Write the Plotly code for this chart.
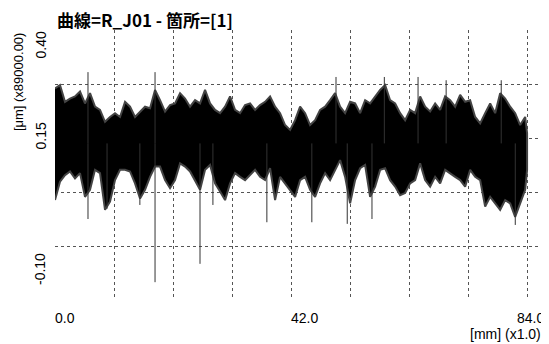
import plotly.graph_objects as go

# ---- data (mm along the trace, μm x89000 values) ----
x_mm = [0.0, 0.89, 1.78, 2.67, 3.56, 4.45, 5.34, 6.23, 7.12, 8.01, 8.9, 9.79, 10.68, 11.57, 12.46,
        13.35, 14.24, 15.13, 16.02, 16.91, 17.8, 18.69, 19.58, 20.47, 21.36,
        22.25, 23.14, 24.03, 24.92, 25.81, 26.70, 27.59, 28.48, 29.37, 30.26, 31.15, 32.04,
        32.93, 33.82, 34.71, 35.60, 36.49, 37.38, 38.27, 39.16, 40.05, 40.94, 41.83, 42.72,
        43.61, 44.50, 45.39, 46.28, 47.17, 48.06, 48.95, 49.84, 50.73, 51.62, 52.51, 53.40,
        54.29, 55.18, 56.07, 56.96, 57.85, 58.74, 59.63, 60.52, 61.41, 62.30, 63.19, 64.08,
        64.97, 65.86, 66.75, 67.64, 68.53, 69.42, 70.31, 71.20, 72.09, 72.98, 73.87, 74.76,
        75.65, 76.54, 77.43, 78.32, 79.21, 80.10, 80.99, 81.88, 82.77, 83.66, 84.0]

upper = [0.292, 0.298, 0.267, 0.273, 0.277, 0.286, 0.264, 0.283, 0.258, 0.252, 0.230, 0.239, 0.246,
         0.239, 0.267, 0.258, 0.239, 0.249, 0.258, 0.255, 0.289, 0.270, 0.249, 0.261, 0.264,
         0.283, 0.273, 0.258, 0.270, 0.264, 0.289, 0.264, 0.252, 0.246, 0.258, 0.277, 0.252,
         0.246, 0.261, 0.264, 0.252, 0.261, 0.267, 0.277, 0.258, 0.246, 0.224, 0.215, 0.233,
         0.258, 0.246, 0.224, 0.233, 0.252, 0.258, 0.270, 0.283, 0.258, 0.246, 0.267, 0.264,
         0.246, 0.270, 0.264, 0.277, 0.289, 0.298, 0.270, 0.264, 0.246, 0.233, 0.252, 0.246,
         0.277, 0.258, 0.249, 0.264, 0.252, 0.277, 0.270, 0.258, 0.280, 0.267, 0.270, 0.239,
         0.227, 0.246, 0.264, 0.246, 0.283, 0.273, 0.258, 0.246, 0.224, 0.239, 0.209]

lower = [0.085, 0.119, 0.131, 0.138, 0.125, 0.135, 0.091, 0.104, 0.141, 0.135, 0.067, 0.082, 0.122,
         0.141, 0.141, 0.138, 0.116, 0.088, 0.104, 0.128, 0.147, 0.147, 0.122, 0.107, 0.122,
         0.153, 0.147, 0.138, 0.122, 0.104, 0.141, 0.150, 0.116, 0.101, 0.085, 0.116, 0.135,
         0.128, 0.122, 0.131, 0.141, 0.128, 0.122, 0.144, 0.085, 0.128, 0.116, 0.104, 0.091,
         0.122, 0.128, 0.104, 0.091, 0.116, 0.135, 0.122, 0.141, 0.159, 0.128, 0.079, 0.122,
         0.144, 0.150, 0.091, 0.110, 0.141, 0.144, 0.122, 0.110, 0.094, 0.098, 0.116, 0.122,
         0.153, 0.122, 0.110, 0.128, 0.116, 0.141, 0.135, 0.128, 0.122, 0.110, 0.141, 0.128,
         0.122, 0.073, 0.091, 0.079, 0.067, 0.085, 0.079, 0.054, 0.079, 0.104, 0.141]

signal_mean = 0.19
up_spike_x = [5.87, 17.8, 50.0, 58.6, 64.6, 69.6, 79.4]
up_spike_val = [0.322, 0.322, 0.313, 0.313, 0.313, 0.307, 0.307]
down_spike_x = [5.87, 9.26, 15.1, 17.8, 25.8, 28.1, 37.7, 45.7, 52.0, 56.4, 81.9]
down_spike_val = [0.050, 0.069, 0.076, -0.067, -0.033, 0.076, 0.044, 0.044, 0.041, 0.050, 0.039]

x_grid = [0, 10.5, 21, 31.5, 42, 52.5, 63, 73.5, 84, 94.5]
y_grid = [-0.10, 0.0, 0.10, 0.20, 0.30, 0.40]
x_labels = [(0, "0.0"), (42, "42.0"), (84, "84.0")]
y_labels = [(0.40, "0.40", "top"), (0.15, "0.15", "bottom"), (-0.10, "-0.10", "bottom")]

title_text = "曲線=R_J01 - 箇所=[1]"
y_title = "[μm] (x89000.00)"
x_title = "[mm] (x1.0)"

fig = go.Figure()

# dense signal band
fig.add_trace(go.Scatter(
    x=x_mm + x_mm[::-1], y=upper + lower[::-1],
    fill="toself", fillcolor="black", mode="lines",
    line=dict(color="#444", width=2), hoverinfo="skip", showlegend=False))

# isolated spikes
sx, sy = [], []
for xv, v in zip(up_spike_x, up_spike_val):
    sx += [xv, xv, None]
    sy += [signal_mean, v, None]
for xv, v in zip(down_spike_x, down_spike_val):
    sx += [xv, xv, None]
    sy += [signal_mean, v, None]
fig.add_trace(go.Scatter(x=sx, y=sy, mode="lines", line=dict(color="#333", width=1),
                         hoverinfo="skip", showlegend=False))

grid_style = dict(showgrid=True, gridcolor="#555", griddash="dot", gridwidth=1,
                  zeroline=False, showticklabels=False, ticks="", showline=False)
fig.update_xaxes(range=[0, 87.9], tickmode="array", tickvals=x_grid, **grid_style)
fig.update_yaxes(range=[-0.10, 0.40], tickmode="array", tickvals=y_grid, **grid_style)

tick_font = dict(family="Liberation Sans", size=14, color="black")
ann = []
for xv, t in x_labels:
    ann.append(dict(x=xv, y=0, xref="x", yref="paper", text=t, showarrow=False,
                    xanchor="left", yanchor="middle", xshift=(-12 if xv == 84 else -2), yshift=-18,
                    font=tick_font))
for yv, t, anc in y_labels:
    ann.append(dict(x=0, y=yv, xref="paper", yref="y", text=t, showarrow=False,
                    textangle=-90, xanchor="center", yanchor=anc, xshift=-15,
                    yshift=(0 if anc == "top" else 13),
                    font=dict(family="Liberation Sans", size=14, color="black")))
ann.append(dict(x=0, y=0.807, xref="paper", yref="paper", text=y_title, showarrow=False,
                textangle=-90, xanchor="center", yanchor="middle", xshift=-37,
                font=dict(family="Liberation Sans", size=13, color="black")))
ann.append(dict(x=1, y=0, xref="paper", yref="paper", text=x_title, showarrow=False,
                xanchor="right", yanchor="middle", xshift=-6, yshift=-34,
                font=dict(family="Liberation Sans", size=14, color="black")))
ann.append(dict(x=0, y=1, xref="paper", yref="paper", text="<b>" + title_text + "</b>", showarrow=False,
                xanchor="left", yanchor="middle", yshift=11,
                font=dict(family="Noto Sans CJK JP", size=17, color="black")))

# page body has an 8px margin: figure is sized/margined so the plot area lands at x 55-549, y 30-300
fig.update_layout(width=541, height=336, margin=dict(l=47, r=0, t=22, b=44),
                  paper_bgcolor="white", plot_bgcolor="white", annotations=ann,
                  showlegend=False)

fig.write_html("out.html")
